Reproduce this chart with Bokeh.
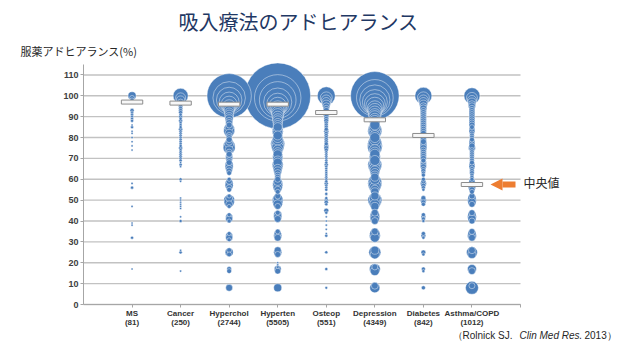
import numpy as np
from bokeh.plotting import figure
from bokeh.models import ColumnDataSource, Range1d, FixedTicker, Label, Arrow, NormalHead
from bokeh.embed import file_html
from bokeh.resources import INLINE

# ---------------- data ----------------
categories = ["MS", "Cancer", "Hyperchol", "Hyperten", "Osteop", "Depression", "Diabetes", "Asthma/COPD"]
patients_n = [81, 250, 2744, 5505, 551, 4349, 842, 1012]
medians = [97, 96.5, 96, 96, 92, 88.5, 81, 57.5]
y_ticks = [0, 10, 20, 30, 40, 50, 60, 70, 80, 90, 100, 110]

ms_adh = [100, 99, 98, 93, 92, 91, 90, 89, 88, 86, 85, 83, 82, 80, 78, 76, 74, 58, 56, 47, 39, 38, 32, 17]
ms_cnt = [27, 10, 7, 7, 4, 4, 4, 4, 4, 2, 4, 2, 2, 2, 2, 2, 2, 2, 4, 2, 2, 2, 4, 2]

ca_adh = [100, 99, 98, 97, 95, 94, 93, 92, 91, 90, 89, 88, 87, 86, 85, 84, 83, 82, 81, 80, 79, 78, 77, 76,
          75, 74, 73, 72, 71, 70, 69, 68, 67, 66, 60, 59, 51, 50, 49, 48, 47, 46, 42, 40, 26, 25, 16]
ca_cnt = [94, 42, 27, 15, 7, 7, 7, 7, 4, 7, 4, 7, 4, 4, 4, 7, 4, 4, 4, 4, 4, 4, 4, 4,
          7, 4, 4, 4, 4, 4, 4, 2, 4, 2, 4, 2, 2, 2, 2, 2, 2, 2, 2, 4, 2, 4, 2]

hc_adh = [100, 99, 98, 97, 96, 95, 94, 93, 92, 91, 90, 89, 88, 87, 86, 85, 84, 83, 82, 81, 80, 79, 78, 77,
          76, 75, 74, 73, 72, 71, 70, 69, 68, 67, 66, 65, 64, 63, 60, 59, 58, 57, 56, 55, 52, 51, 50, 49,
          48, 47, 43, 42, 41, 40, 34, 33, 32, 31, 26, 25, 24, 17, 16, 8]
hc_cnt = [820, 440, 270, 166, 107, 70, 50, 42, 34, 34, 27, 27, 20, 20, 15, 27, 50, 50, 27, 15, 15, 15, 20, 34,
          60, 60, 27, 15, 15, 20, 20, 15, 15, 27, 27, 20, 15, 10, 7, 15, 27, 27, 15, 10, 7, 20, 50, 42,
          20, 7, 7, 20, 20, 7, 7, 20, 20, 7, 10, 27, 10, 10, 10, 20]

ht_adh = [100, 99, 98, 97, 96, 95, 94, 93, 92, 91, 90, 89, 88, 87, 86, 85, 84, 83, 82, 81, 80, 79, 78, 77,
          76, 75, 74, 73, 72, 71, 70, 69, 68, 67, 66, 65, 64, 63, 62, 61, 60, 59, 58, 57, 56, 55, 54, 52,
          51, 50, 49, 48, 47, 44, 43, 42, 41, 35, 34, 33, 32, 26, 25, 24, 20, 19, 18, 17, 16, 8]
ht_cnt = [1800, 900, 560, 330, 201, 135, 94, 70, 60, 60, 50, 42, 42, 34, 34, 34, 42, 50, 42, 34, 42, 50, 60, 82,
          70, 60, 42, 34, 34, 42, 42, 34, 34, 50, 42, 34, 27, 20, 15, 15, 15, 27, 42, 42, 34, 20, 10, 15,
          34, 50, 42, 34, 15, 10, 27, 27, 20, 10, 20, 27, 20, 20, 27, 15, 2, 2, 4, 20, 15, 27]

os_adh = [100, 99, 98, 97, 96, 95, 94, 93, 91, 90, 89, 88, 87, 86, 85, 84, 83, 82, 81, 80, 79, 78, 77, 76,
          75, 74, 73, 72, 71, 70, 69, 68, 67, 66, 65, 64, 63, 62, 61, 60, 59, 58, 57, 56, 55, 53, 51, 50,
          49, 48, 45, 44, 42, 40, 38, 36, 34, 33, 25, 17, 8]
os_cnt = [135, 60, 42, 34, 27, 20, 15, 15, 15, 10, 10, 10, 7, 7, 7, 7, 10, 7, 7, 7, 7, 7, 7, 10,
          10, 7, 4, 4, 4, 4, 4, 4, 7, 4, 4, 4, 4, 4, 4, 4, 4, 7, 4, 4, 4, 4, 4, 7,
          7, 4, 10, 4, 2, 2, 2, 2, 2, 4, 4, 4, 3]

de_adh = [100, 99, 98, 97, 96, 95, 94, 93, 92, 91, 90, 89, 88, 87, 86, 85, 84, 83, 82, 81, 80, 79, 78, 77,
          76, 75, 74, 73, 72, 71, 70, 69, 68, 67, 66, 65, 64, 63, 62, 61, 60, 59, 58, 57, 56, 55, 54, 52,
          51, 50, 49, 48, 47, 44, 43, 42, 41, 40, 35, 34, 33, 32, 26, 25, 24, 18, 17, 16, 9, 8]
de_cnt = [980, 560, 380, 260, 184, 135, 94, 82, 70, 60, 60, 50, 50, 42, 42, 50, 70, 82, 60, 42, 42, 50, 70, 82,
          94, 82, 50, 42, 42, 50, 50, 42, 50, 82, 70, 50, 42, 34, 27, 27, 42, 70, 82, 70, 50, 34, 27, 27,
          50, 82, 60, 42, 27, 20, 34, 42, 34, 20, 20, 42, 50, 34, 27, 60, 34, 15, 50, 34, 20, 42]

di_adh = [100, 99, 98, 97, 96, 95, 94, 93, 92, 91, 90, 89, 88, 87, 86, 85, 84, 83, 82, 80, 79, 78, 77, 76,
          75, 74, 73, 72, 71, 70, 69, 68, 67, 66, 65, 64, 63, 62, 60, 59, 58, 57, 56, 55, 51, 50, 49, 48,
          43, 42, 41, 40, 34, 33, 32, 25, 24, 17, 16, 8]
di_cnt = [120, 60, 42, 34, 27, 20, 20, 15, 15, 15, 15, 15, 15, 15, 15, 15, 15, 15, 15, 15, 15, 15, 20, 20,
          20, 15, 15, 15, 15, 15, 10, 15, 15, 15, 10, 10, 7, 7, 7, 10, 15, 10, 7, 4, 10, 15, 10, 7,
          7, 10, 7, 4, 7, 10, 4, 10, 4, 7, 4, 7]

as_adh = [100, 99, 98, 97, 96, 95, 94, 93, 92, 91, 90, 89, 88, 87, 86, 85, 84, 83, 82, 81, 80, 79, 78, 77,
          76, 75, 74, 73, 72, 71, 70, 69, 68, 67, 66, 65, 64, 63, 62, 61, 60, 59, 58, 57, 56, 55, 54, 52,
          51, 50, 49, 48, 44, 43, 42, 41, 40, 35, 34, 33, 32, 26, 25, 24, 17, 16, 9, 8]
as_cnt = [107, 50, 34, 27, 20, 20, 15, 15, 15, 15, 15, 15, 15, 15, 15, 10, 15, 15, 10, 10, 10, 10, 15, 15,
          15, 20, 10, 10, 10, 10, 10, 10, 10, 15, 15, 10, 10, 10, 7, 7, 7, 15, 20, 27, 20, 15, 10, 15,
          27, 34, 27, 15, 15, 27, 34, 27, 15, 15, 27, 34, 20, 20, 50, 27, 34, 20, 15, 70]

series = [(ms_adh, ms_cnt), (ca_adh, ca_cnt), (hc_adh, hc_cnt), (ht_adh, ht_cnt),
          (os_adh, os_cnt), (de_adh, de_cnt), (di_adh, di_cnt), (as_adh, as_cnt)]

# ---------------- style / layout ----------------
BLUE = "#4a7ebb"
ORANGE = "#ed7d31"
GRID = "#c2c2c2"
AXIS = "#a6a6a6"
TEXT = "#262626"
DIAM_PER_SQRT = 1.55   # bubble diameter (px) per sqrt(patients)
W, H = 620, 343
X_MAX, Y_MAX = 9, 115
# pixel box of the data area inside the canvas (frame covers whole canvas)
AREA_L, AREA_R, AREA_T, AREA_B = 83, 520, 64, 304
PX_X = (AREA_R - AREA_L) / X_MAX
PX_Y = (AREA_B - AREA_T) / Y_MAX


def dx(cx):
    return (cx - AREA_L) / PX_X


def dy(cy):
    return (AREA_B - cy) / PX_Y


xs, ys, sizes = [], [], []
for i, (adh, cnt) in enumerate(series, start=1):
    if len(adh) != len(cnt):
        raise ValueError(f"length mismatch in series {i}: {len(adh)} vs {len(cnt)}")
    for v, n in zip(adh, cnt):
        xs.append(i)
        ys.append(v)
        sizes.append(DIAM_PER_SQRT * np.sqrt(n))
order = np.argsort(-np.array(sizes), kind="stable")
src = ColumnDataSource(dict(x=np.array(xs)[order], y=np.array(ys)[order], size=np.array(sizes)[order]))

p = figure(width=W, height=H,
           x_range=Range1d(dx(0), dx(W)), y_range=Range1d(dy(H), dy(0)),
           output_backend="svg", toolbar_location=None, title=None,
           min_border_left=0, min_border_right=0, min_border_top=0, min_border_bottom=0,
           background_fill_color="white", border_fill_color="white")
p.outline_line_color = None
p.xgrid.visible = False
p.ygrid.visible = False

# horizontal gridlines limited to the data area
p.segment(x0=0, x1=X_MAX, y0=y_ticks, y1=y_ticks, line_color=GRID, line_width=1.4)

p.scatter(x="x", y="y", size="size", marker="circle", source=src,
          fill_color=BLUE, fill_alpha=1.0, line_color="white", line_alpha=0.55, line_width=0.8)

cat_x = list(range(1, len(categories) + 1))
p.rect(x=cat_x, y=medians, width=0.44, height=4, height_units="screen",
       fill_color="#f7f7f7", line_color="#8c8c8c", line_width=1)

# axes drawn at data 0 (take no layout space)
p.xaxis.fixed_location = 0
p.xaxis.bounds = (0, X_MAX)
p.xaxis.ticker = FixedTicker(ticks=cat_x + [X_MAX])
overrides = {i: f"{c}\n({n})" for i, c, n in zip(cat_x, categories, patients_n)}
overrides[X_MAX] = ""
p.xaxis.major_label_overrides = overrides
p.xaxis.major_label_text_font = "Liberation Sans"
p.xaxis.major_label_text_font_size = "8px"
p.xaxis.major_label_text_font_style = "bold"
p.xaxis.major_label_text_color = "#333333"
p.xaxis.major_label_text_line_height = 1.1
p.xaxis.major_label_standoff = 1

p.yaxis.fixed_location = 0
p.yaxis.bounds = (0, Y_MAX)
p.yaxis.ticker = FixedTicker(ticks=y_ticks)
p.yaxis.major_label_text_font = "Liberation Sans"
p.yaxis.major_label_text_font_size = "9px"
p.yaxis.major_label_text_font_style = "bold"
p.yaxis.major_label_text_color = "#404040"
p.yaxis.major_label_standoff = 2

for ax in (p.xaxis, p.yaxis):
    ax.axis_line_color = AXIS
    ax.major_tick_line_color = AXIS
    ax.major_tick_in = 0
    ax.major_tick_out = 3
    ax.minor_tick_line_color = None

# annotations
p.add_layout(Label(x=dx(298), y=dy(21), text="吸入療法のアドヒアランス", text_align="center",
                   text_baseline="middle", text_font="Noto Sans CJK JP", text_font_size="20px",
                   text_color="#1f3864"))
p.add_layout(Label(x=dx(20), y=dy(50), text="服薬アドヒアランス(%)", text_align="left",
                   text_baseline="middle", text_font="Noto Sans CJK JP", text_font_size="11px",
                   text_color=TEXT))
p.add_layout(Label(x=dx(523), y=dy(182), text="中央値", text_align="left",
                   text_baseline="middle", text_font="Noto Sans CJK JP", text_font_size="12px",
                   text_color=TEXT))

p.add_layout(Arrow(end=NormalHead(size=12, fill_color=ORANGE, line_color=ORANGE, line_width=0),
                   x_start=dx(515), y_start=medians[-1], x_end=dx(490), y_end=medians[-1],
                   line_color=ORANGE, line_width=6))

cite_y = dy(335)
CITE_SIZE = "10px"
p.add_layout(Label(x=dx(452), y=cite_y, text="（Rolnick  SJ. ", text_align="left", text_baseline="middle",
                   text_font="Liberation Sans", text_font_size=CITE_SIZE, text_color=TEXT))
p.add_layout(Label(x=dx(519), y=cite_y, text="Clin Med Res.", text_align="left", text_baseline="middle",
                   text_font="Liberation Sans", text_font_size=CITE_SIZE, text_font_style="italic",
                   text_color=TEXT))
p.add_layout(Label(x=dx(584), y=cite_y, text="2013）", text_align="left", text_baseline="middle",
                   text_font="Liberation Sans", text_font_size=CITE_SIZE, text_color=TEXT))

open("out.html", "w").write(file_html(p, INLINE))
